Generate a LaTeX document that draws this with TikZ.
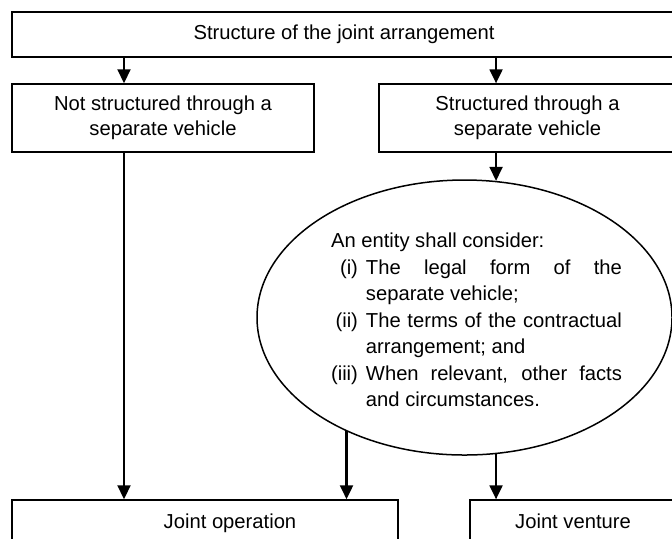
\documentclass[tikz,border=0pt]{standalone}
\usepackage{fontspec}
\setmainfont{Liberation Sans}
\usetikzlibrary{arrows.meta,shapes.geometric}
\tikzset{
  box/.style={draw,line width=0.75pt,inner sep=0pt,align=center},
  lowbox/.style={box,text height=7.4pt,text depth=2.1pt},
  arr/.style={line width=1.05pt,-{Triangle[length=7pt,width=6.5pt]}}
}
\hbadness=10000
\begin{document}
\begin{tikzpicture}[x=0.5pt,y=-0.5pt,font=\fontsize{10.1pt}{12.5pt}\selectfont]
\useasboundingbox (0,0) rectangle (672,538);
\clip (0,0) rectangle (672,538);
\node[box,minimum width=332pt,minimum height=22.5pt] (structure) at (344,34.5) {Structure of the joint arrangement};
\node[box,minimum width=151pt,minimum height=34pt] (notsv) at (163,118) {Not structured through a\\separate vehicle};
\node[box,minimum width=148.5pt,minimum height=34pt] (sv) at (527.5,118) {Structured through a\\separate vehicle};
\node[draw,ellipse,line width=0.75pt,inner sep=0pt,minimum width=207.5pt,minimum height=137.5pt] (oval) at (464.5,317.5) {};
\node[font=\fontsize{10.1pt}{13.25pt}\selectfont,inner sep=0pt] (consider) at (476.5,322) {%
\begin{tabular}{@{}r@{\hspace{4pt}}p{128pt}@{}}
\multicolumn{2}{@{}l@{}}{An entity shall consider:}\\
(i) & The legal form of the\linebreak separate vehicle;\\
(ii) & The terms of the contractual\linebreak arrangement; and\\
(iii) & When relevant, other facts\linebreak and circumstances.
\end{tabular}};
\node[lowbox,minimum width=193pt,minimum height=23pt] (jointop) at (205,523) {\hspace*{25pt}Joint operation};
\node[lowbox,minimum width=103pt,minimum height=23pt] (jointvent) at (573,523) {Joint venture};
\coordinate (c1) at (124,0);
\draw[arr] (c1 |- structure.south) -- (c1 |- notsv.north);
\draw[arr] (oval.77 |- structure.south) -- (oval.77 |- sv.north);
\draw[arr] (oval.77 |- sv.south) -- (oval.77);
\draw[arr] (c1 |- notsv.south) -- (c1 |- jointop.north);
\draw[arr] (oval.224) -- (oval.224 |- jointop.north);
\draw[arr] (oval.283) -- (oval.283 |- jointvent.north);
\end{tikzpicture}
\end{document}
